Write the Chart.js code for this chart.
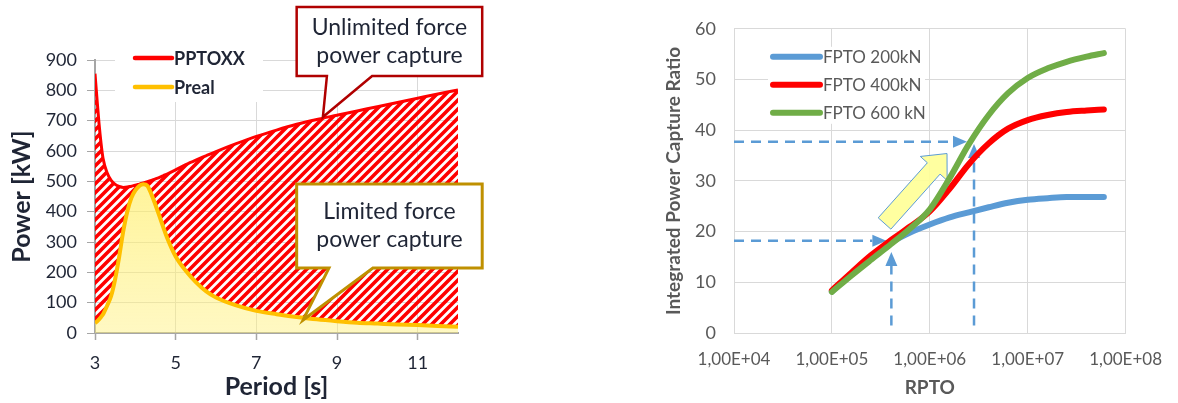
<!DOCTYPE html>
<html lang="en">
<head>
<meta charset="utf-8">
<title>Power capture</title>
<script src="https://cdn.jsdelivr.net/npm/chart.js@4.4.1/dist/chart.umd.min.js"></script>
<style>
  html, body { margin: 0; padding: 0; background: #ffffff; }
  body { position: relative; width: 1178px; height: 403px; overflow: hidden; }
  .panel { position: absolute; top: 0; }
  #powerPanel { left: 0; }
  #ratioPanel { left: 600px; }
  canvas { display: block; }
</style>
</head>
<body>
<div class="panel" id="powerPanel"><canvas id="powerChart" width="500" height="403"></canvas></div>
<div class="panel" id="ratioPanel"><canvas id="ratioChart" width="578" height="403"></canvas></div>
<script>
// ---- Absorbed power against wave period ----
const periods = [3.0, 3.05, 3.1, 3.15, 3.2, 3.3, 3.4, 3.5, 3.6, 3.7, 3.8, 3.9, 4.0, 4.1, 4.2, 4.3, 4.4, 4.5, 4.6, 4.7, 4.8, 5.0, 5.25, 5.5, 5.75, 6.0, 6.5, 7.0, 7.5, 8.0, 8.5, 9.0, 9.5, 10.0, 10.5, 11.0, 11.5, 12.0];
const pptoxx = [855, 770, 690, 625, 575, 528, 503, 490, 483, 480, 481, 484, 487, 491, 495, 499, 503, 508, 513, 519, 525, 538, 555, 570, 584, 598, 624, 648, 669, 688, 704, 718, 732, 746, 760, 774, 788, 801];
const preal = [33, 38, 45, 53, 62, 90, 122, 178, 252, 335, 400, 445, 470, 485, 490, 485, 457, 422, 385, 346, 310, 252, 205, 168, 138, 117, 91, 73, 62, 53, 45, 39, 34, 31, 28, 26, 23, 21];
const periodTicks = [3, 5, 7, 9, 11];
const powerTicks = [0, 100, 200, 300, 400, 500, 600, 700, 800, 900];

// ---- Capture ratio against PTO damping ----
const rpto = [1e5, 1.6e5, 2.5e5, 4e5, 6.3e5, 1e6, 1.6e6, 2.5e6, 4e6, 6.3e6, 1e7, 1.6e7, 2.5e7, 4e7, 6e7];
const fpto200 = [8.2, 11.8, 15.0, 17.8, 19.8, 21.4, 22.8, 23.8, 24.8, 25.7, 26.3, 26.6, 26.8, 26.8, 26.8];
const fpto400 = [8.4, 12.0, 15.3, 18.3, 21.0, 24.0, 28.5, 33.3, 37.4, 40.3, 42.0, 43.0, 43.6, 43.9, 44.1];
const fpto600 = [8.1, 11.4, 14.4, 17.5, 20.6, 24.4, 30.6, 37.2, 43.0, 47.3, 50.3, 52.2, 53.5, 54.5, 55.2];
const rptoTicks = [1e4, 1e5, 1e6, 1e7, 1e8];
const ratioTicks = [0, 10, 20, 30, 40, 50, 60];

const INK = '#1F2535';
const GREY = '#595959';
const GRID = '#D9D9D9';
const AXIS = '#A6A6A6';
const FONT = "Lato, 'Open Sans', sans-serif";

Chart.defaults.font.family = FONT;

const pairs = (xs, ys) => xs.map((x, i) => ({ x, y: ys[i] }));

function sci(v) {
  const e = Math.floor(Math.log10(v) + 1e-9);
  const m = v / Math.pow(10, e);
  return m.toFixed(2).replace('.', ',') + 'E+' + String(e).padStart(2, '0');
}

function hatchPattern(ctx) {
  const tile = document.createElement('canvas');
  tile.width = tile.height = 9;
  const t = tile.getContext('2d');
  t.strokeStyle = '#FF0000';
  t.lineWidth = 3.6;
  t.beginPath();
  t.moveTo(-3, 12); t.lineTo(12, -3);
  t.moveTo(-3, 3); t.lineTo(3, -3);
  t.moveTo(6, 12); t.lineTo(12, 6);
  t.stroke();
  return ctx.createPattern(tile, 'repeat');
}

function yellowShade(context) {
  const chart = context.chart;
  const a = chart.chartArea;
  if (!a) return 'rgba(255,240,120,0.5)';
  const g = chart.ctx.createLinearGradient(0, a.top, 0, a.bottom);
  g.addColorStop(0, 'rgba(255,236,80,0.8)');
  g.addColorStop(1, 'rgba(255,240,120,0.45)');
  return g;
}

// Speech-bubble notes placed in data units of the power chart
const powerNotes = [
  { lines: ['Unlimited force', 'power capture'], box: [8.0, 12.6, 1075, 847], base: [8.75, 9.87], tip: [8.65, 712], color: '#B00000', width: 2.5 },
  { lines: ['Limited force', 'power capture'], box: [8.0, 12.6, 491, 214], base: [8.8, 9.89], tip: [8.16, 43], color: '#BF9000', width: 3 }
];

function drawNote(chart, n) {
  const xs = chart.scales.x, ys = chart.scales.y, ctx = chart.ctx;
  const L = xs.getPixelForValue(n.box[0]), R = xs.getPixelForValue(n.box[1]);
  const T = ys.getPixelForValue(n.box[2]), B = ys.getPixelForValue(n.box[3]);
  const b0 = xs.getPixelForValue(n.base[0]), b1 = xs.getPixelForValue(n.base[1]);
  const tx = xs.getPixelForValue(n.tip[0]), ty = ys.getPixelForValue(n.tip[1]);
  ctx.save();
  ctx.beginPath();
  ctx.moveTo(L, T); ctx.lineTo(R, T); ctx.lineTo(R, B); ctx.lineTo(b1, B);
  ctx.lineTo(tx, ty); ctx.lineTo(b0, B); ctx.lineTo(L, B); ctx.closePath();
  ctx.fillStyle = '#ffffff';
  ctx.fill();
  ctx.lineWidth = n.width;
  ctx.strokeStyle = n.color;
  ctx.miterLimit = 12;
  ctx.stroke();
  ctx.fillStyle = INK;
  ctx.font = '23px ' + FONT;
  ctx.textAlign = 'center';
  ctx.textBaseline = 'middle';
  const cx = (L + R) / 2, cy = (T + B) / 2, lh = 28;
  n.lines.forEach((s, i) => ctx.fillText(s, cx, cy + (i - (n.lines.length - 1) / 2) * lh));
  ctx.restore();
}

function drawLegend(chart, opt) {
  const ctx = chart.ctx, a = chart.chartArea;
  const x0 = a.left + opt.dx, y0 = a.top + opt.dy;
  ctx.save();
  chart.data.datasets.forEach((ds, i) => {
    const y = y0 + i * opt.gap;
    ctx.beginPath();
    ctx.moveTo(x0, y); ctx.lineTo(x0 + opt.sample, y);
    ctx.lineCap = 'round';
    ctx.lineWidth = opt.lineWidth;
    ctx.strokeStyle = ds.borderColor;
    ctx.stroke();
    ctx.fillStyle = opt.color;
    ctx.font = opt.font;
    ctx.textAlign = 'left';
    ctx.textBaseline = 'middle';
    ctx.fillText(ds.label, x0 + opt.sample + opt.textGap, y + 1);
  });
  ctx.restore();
}

const powerDecor = {
  id: 'powerDecor',
  beforeDatasetsDraw(chart) {
    const a = chart.chartArea, ctx = chart.ctx;
    ctx.save();
    ctx.fillStyle = '#ffffff';
    ctx.fillRect(a.left + 20, a.top - 16, 148, 58);
    ctx.restore();
  },
  afterDraw(chart) {
    drawLegend(chart, { dx: 40, dy: -2, gap: 29, sample: 37, textGap: 2, lineWidth: 4.5, color: INK, font: 'bold 18px ' + FONT });
    powerNotes.forEach(n => drawNote(chart, n));
  }
};

const powerCanvas = document.getElementById('powerChart');
const hatch = hatchPattern(powerCanvas.getContext('2d'));

new Chart(powerCanvas, {
  type: 'line',
  data: {
    datasets: [
      {
        label: 'PPTOXX', data: pairs(periods, pptoxx),
        borderColor: '#FF0000', borderWidth: 3, pointRadius: 0,
        cubicInterpolationMode: 'monotone', fill: 1, backgroundColor: hatch, order: 1
      },
      {
        label: 'Preal', data: pairs(periods, preal),
        borderColor: '#FFC000', borderWidth: 4, pointRadius: 0,
        cubicInterpolationMode: 'monotone', fill: 'origin', backgroundColor: yellowShade, order: 0
      }
    ]
  },
  options: {
    responsive: false, animation: false, devicePixelRatio: 1,
    layout: { padding: { left: 0, right: 42, top: 60, bottom: 0 } },
    plugins: { legend: { display: false }, tooltip: { enabled: false } },
    scales: {
      x: {
        type: 'linear', min: 3, max: 12,
        afterBuildTicks: s => { s.ticks = periodTicks.map(v => ({ value: v })); },
        afterFit: s => { s.height = 70; },
        grid: { color: GRID, tickLength: 7, tickColor: AXIS, tickWidth: 1.5 },
        border: { color: AXIS, width: 2 },
        ticks: { color: INK, font: { size: 18 }, padding: 12, maxRotation: 0, autoSkip: false },
        title: { display: true, text: 'Period [s]', color: INK, font: { size: 25, weight: 'bold' }, padding: { top: 0, bottom: 1 } }
      },
      y: {
        min: 0, max: 900,
        afterBuildTicks: s => { s.ticks = powerTicks.map(v => ({ value: v })); },
        afterFit: s => { s.width = 95; },
        grid: { color: GRID, tickLength: 8, tickColor: AXIS },
        border: { color: AXIS, width: 2 },
        ticks: { color: INK, font: { size: 18 }, padding: 10 },
        title: { display: true, text: 'Power [kW]', color: INK, font: { size: 25, weight: 'bold' }, padding: { top: 7, bottom: 0 } }
      }
    }
  },
  plugins: [powerDecor]
});

// Dashed read-off guides and the trend arrow, in data units of the ratio chart
const guides = [
  { from: [1e4, 18.2], to: [3.6e5, 18.2] },
  { from: [4.05e5, 1.5], to: [4.05e5, 16.0] },
  { from: [1e4, 37.7], to: [2.4e6, 37.7] },
  { from: [2.83e6, 1.5], to: [2.83e6, 37.3] }
];
const trendArrow = { from: [3.45e5, 21.6], to: [1.5e6, 35.4] };

function drawGuide(chart, g) {
  const xs = chart.scales.x, ys = chart.scales.y, ctx = chart.ctx;
  const x0 = xs.getPixelForValue(g.from[0]), y0 = ys.getPixelForValue(g.from[1]);
  const x1 = xs.getPixelForValue(g.to[0]), y1 = ys.getPixelForValue(g.to[1]);
  const L = Math.hypot(x1 - x0, y1 - y0), ux = (x1 - x0) / L, uy = (y1 - y0) / L;
  const hl = 14, hw = 6;
  const bx = x1 - ux * hl, by = y1 - uy * hl;
  ctx.save();
  ctx.strokeStyle = '#5B9BD5';
  ctx.fillStyle = '#5B9BD5';
  ctx.lineWidth = 2.5;
  ctx.setLineDash([10, 7]);
  ctx.beginPath(); ctx.moveTo(x0, y0); ctx.lineTo(bx, by); ctx.stroke();
  ctx.setLineDash([]);
  ctx.beginPath();
  ctx.moveTo(x1, y1);
  ctx.lineTo(bx - uy * hw, by + ux * hw);
  ctx.lineTo(bx + uy * hw, by - ux * hw);
  ctx.closePath(); ctx.fill();
  ctx.restore();
}

function drawBlockArrow(chart, ar) {
  const xs = chart.scales.x, ys = chart.scales.y, ctx = chart.ctx;
  const x0 = xs.getPixelForValue(ar.from[0]), y0 = ys.getPixelForValue(ar.from[1]);
  const x1 = xs.getPixelForValue(ar.to[0]), y1 = ys.getPixelForValue(ar.to[1]);
  const L = Math.hypot(x1 - x0, y1 - y0), ux = (x1 - x0) / L, uy = (y1 - y0) / L;
  const nx = -uy, ny = ux, sw = 8.5, hw = 18, hl = 20;
  const bx = x1 - ux * hl, by = y1 - uy * hl;
  ctx.save();
  ctx.beginPath();
  ctx.moveTo(x0 + nx * sw, y0 + ny * sw);
  ctx.lineTo(bx + nx * sw, by + ny * sw);
  ctx.lineTo(bx + nx * hw, by + ny * hw);
  ctx.lineTo(x1, y1);
  ctx.lineTo(bx - nx * hw, by - ny * hw);
  ctx.lineTo(bx - nx * sw, by - ny * sw);
  ctx.lineTo(x0 - nx * sw, y0 - ny * sw);
  ctx.closePath();
  ctx.fillStyle = 'rgba(255,255,150,0.9)';
  ctx.fill();
  ctx.lineWidth = 1;
  ctx.strokeStyle = '#5B9BD5';
  ctx.stroke();
  ctx.restore();
}

const ratioDecor = {
  id: 'ratioDecor',
  beforeDatasetsDraw(chart) {
    const a = chart.chartArea, ctx = chart.ctx;
    ctx.save();
    ctx.fillStyle = '#ffffff';
    ctx.fillRect(a.left + 34, a.top + 18, 157, 77);
    ctx.restore();
    guides.forEach(g => drawGuide(chart, g));
    drawBlockArrow(chart, trendArrow);
  },
  afterDraw(chart) {
    drawLegend(chart, { dx: 39, dy: 28, gap: 28, sample: 47, textGap: 3, lineWidth: 6, color: GREY, font: '17px ' + FONT });
  }
};

new Chart(document.getElementById('ratioChart'), {
  type: 'line',
  data: {
    datasets: [
      { label: 'FPTO 200kN', data: pairs(rpto, fpto200), borderColor: '#5B9BD5', order: 2 },
      { label: 'FPTO 400kN', data: pairs(rpto, fpto400), borderColor: '#FF0000', order: 1 },
      { label: 'FPTO 600 kN', data: pairs(rpto, fpto600), borderColor: '#70AD47', order: 0 }
    ].map(d => Object.assign(d, {
      borderWidth: 6, pointRadius: 0, fill: false, borderCapStyle: 'round', borderJoinStyle: 'round',
      cubicInterpolationMode: 'monotone'
    }))
  },
  options: {
    responsive: false, animation: false, devicePixelRatio: 1,
    layout: { padding: { left: 60, right: 46, top: 23, bottom: 0 } },
    plugins: { legend: { display: false }, tooltip: { enabled: false } },
    scales: {
      x: {
        type: 'logarithmic', min: 1e4, max: 1e8,
        afterBuildTicks: s => { s.ticks = rptoTicks.map(v => ({ value: v })); },
        afterFit: s => { s.height = 70; },
        grid: { color: GRID, drawTicks: false },
        border: { color: GRID },
        ticks: { color: GREY, font: { size: 17 }, padding: 16, maxRotation: 0, autoSkip: false, callback: v => sci(v) },
        title: { display: true, text: 'RPTO', color: GREY, font: { size: 19, weight: 'bold' }, padding: { top: 0, bottom: 4 } }
      },
      y: {
        min: 0, max: 60,
        afterBuildTicks: s => { s.ticks = ratioTicks.map(v => ({ value: v })); },
        afterFit: s => { s.width = 74; },
        grid: { color: GRID, drawTicks: false },
        border: { color: GRID },
        ticks: { color: GREY, font: { size: 18 }, padding: 18 },
        title: { display: true, text: 'Integrated Power Capture Ratio', color: GREY, font: { size: 19, weight: 'bold' }, padding: { top: 2, bottom: 0 } }
      }
    }
  },
  plugins: [ratioDecor]
});
</script>
</body>
</html>
